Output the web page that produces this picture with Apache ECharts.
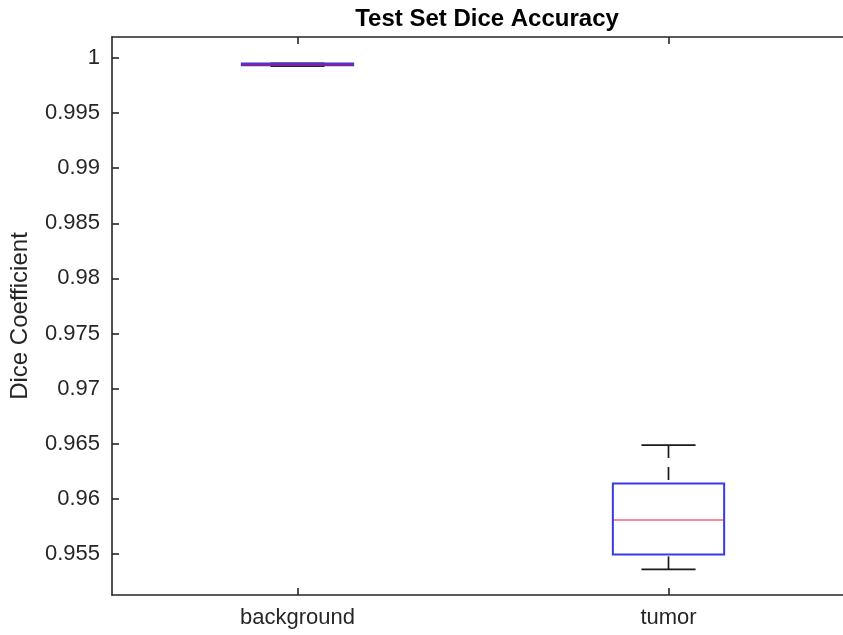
<!DOCTYPE html>
<html>
<head>
<meta charset="utf-8">
<script src="https://cdn.jsdelivr.net/npm/echarts@6/dist/echarts.min.js"></script>
<style>
html,body{margin:0;padding:0;background:#fff;}
#chart{width:843px;height:635px;}
</style>
</head>
<body>
<div id="chart"></div>
<script>
const categories = ['background', 'tumor'];
const whiskerLow  = [0.99926, 0.95360];
const q1          = [0.99934, 0.95496];
const median      = [0.99941, 0.95808];
const q3          = [0.99950, 0.96140];
const whiskerHigh = [0.99951, 0.96488];

const yMin = 0.95128, yMax = 1.0019, yStep = 0.005;

const textColor = '#262626';
const fontFamily = '"Liberation Sans", Arial, Helvetica, sans-serif';

const boxData = categories.map((c, i) => [i, whiskerLow[i], q1[i], median[i], q3[i], whiskerHigh[i]]);

const chart = echarts.init(document.getElementById('chart'), null, {renderer: 'canvas'});

function renderBox(params, api) {
  const i = api.value(0);
  const pLow = api.coord([i, api.value(1)]);
  const pQ1 = api.coord([i, api.value(2)]);
  const pMed = api.coord([i, api.value(3)]);
  const pQ3 = api.coord([i, api.value(4)]);
  const pHigh = api.coord([i, api.value(5)]);
  const band = api.size([1, 0])[0];
  const bw = band * 0.3, cw = band * 0.146;
  const x = pLow[0];
  const black = {stroke: '#1a1a1a', lineWidth: 1.7, fill: null};
  const dashed = {stroke: '#1a1a1a', lineWidth: 1.7, lineDash: [13, 9], fill: null};
  return {
    type: 'group',
    children: [
      {type: 'line', shape: {x1: x, y1: pHigh[1], x2: x, y2: pQ3[1]}, style: dashed},
      {type: 'line', shape: {x1: x, y1: pLow[1], x2: x, y2: pQ1[1]}, style: dashed},
      {type: 'line', shape: {x1: x - cw / 2, y1: pHigh[1], x2: x + cw / 2, y2: pHigh[1]}, style: black},
      {type: 'line', shape: {x1: x - cw / 2, y1: pLow[1], x2: x + cw / 2, y2: pLow[1]}, style: black},
      {type: 'rect', shape: {x: x - bw / 2, y: pQ3[1], width: bw, height: pQ1[1] - pQ3[1]},
        style: {stroke: '#3a3ae8', lineWidth: 2, fill: 'rgba(0,0,0,0)'}},
      {type: 'line', shape: {x1: x - bw / 2, y1: pMed[1], x2: x + bw / 2, y2: pMed[1]},
        style: {stroke: 'rgba(235,0,50,0.6)', lineWidth: 1.5}}
    ]
  };
}

chart.setOption({
  animation: false,
  backgroundColor: '#ffffff',
  title: {
    text: 'Test Set Dice Accuracy',
    left: 482,
    top: 2,
    textAlign: 'center',
    textStyle: {fontFamily: fontFamily, fontWeight: 'bold', fontSize: 24, color: '#000'}
  },
  grid: {left: 112, width: 742, top: 37, bottom: 40, containLabel: false, outerBoundsMode: 'none'},
  xAxis: [{
    type: 'category',
    data: categories,
    position: 'bottom',
    boundaryGap: true,
    axisLine: {show: true, onZero: false, lineStyle: {color: textColor, width: 1.6}},
    axisTick: {show: true, alignWithLabel: true, inside: true, length: 7, lineStyle: {color: textColor, width: 1.6}},
    axisLabel: {color: textColor, fontFamily: fontFamily, fontSize: 22, margin: 12},
    splitLine: {show: false}
  }, {
    type: 'category',
    data: categories,
    position: 'top',
    boundaryGap: true,
    axisLine: {show: true, onZero: false, lineStyle: {color: textColor, width: 1.6}},
    axisTick: {show: true, alignWithLabel: true, inside: true, length: 7, lineStyle: {color: textColor, width: 1.6}},
    axisLabel: {show: false},
    splitLine: {show: false}
  }],
  yAxis: [{
    type: 'value',
    min: yMin,
    max: yMax,
    splitNumber: 10,
    minInterval: yStep,
    maxInterval: yStep,
    name: 'Dice Coefficient',
    nameLocation: 'middle',
    nameGap: 80,
    nameRotate: 90,
    nameTextStyle: {color: textColor, fontFamily: fontFamily, fontSize: 24},
    axisLine: {show: true, lineStyle: {color: textColor, width: 1.6}},
    axisTick: {show: true, inside: true, length: 7, lineStyle: {color: textColor, width: 1.6}},
    axisLabel: {
      color: textColor, fontFamily: fontFamily, fontSize: 22, margin: 12,
      showMinLabel: false, showMaxLabel: false,
      formatter: v => String(+(+v).toFixed(4))
    },
    splitLine: {show: false}
  }],
  series: [{
    type: 'custom',
    name: 'Dice',
    xAxisIndex: 0,
    yAxisIndex: 0,
    renderItem: renderBox,
    encode: {x: 0, y: [1, 2, 3, 4, 5]},
    data: boxData,
    clip: false
  }]
});
</script>
</body>
</html>
